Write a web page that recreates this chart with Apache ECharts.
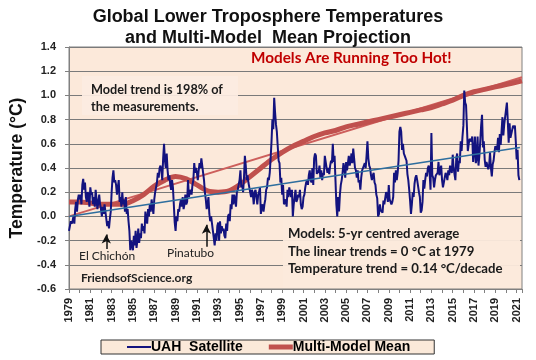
<!DOCTYPE html>
<html>
<head>
<meta charset="utf-8">
<script src="https://cdn.jsdelivr.net/npm/echarts@6/dist/echarts.min.js"></script>
<style>html,body{margin:0;padding:0;background:#fff;}#c{width:536px;height:360px;}</style>
</head>
<body>
<div id="c"></div>
<script>
// UAH satellite monthly values (°C, shifted so trend = 0 at 1979), Jan 1979 .. Apr 2021
const startYear = 1979;
const uah = [
 -0.12,-0.08,-0.04,-0.06,-0.04,0.00,-0.06,0.06,0.12,0.04,0.14,0.18,   // 1979
 0.14,0.18,0.10,0.26,0.31,0.22,0.28,0.16,0.12,0.20,0.18,0.08,          // 1980
 0.24,0.18,0.20,0.10,0.16,0.08,0.22,0.14,0.06,0.12,0.18,0.10,          // 1981
 0.06,0.00,0.08,0.02,0.10,0.04,-0.02,-0.08,-0.04,-0.10,-0.02,0.04,     // 1982
 0.20,0.32,0.38,0.28,0.30,0.26,0.18,0.24,0.30,0.12,0.16,0.08,          // 1983
 0.20,0.10,0.14,0.04,0.16,0.02,0.06,-0.04,-0.12,-0.28,-0.20,-0.24,     // 1984
 -0.28,-0.16,-0.24,-0.12,-0.26,-0.20,-0.10,-0.22,-0.14,-0.18,-0.06,-0.12, // 1985
 -0.08,-0.14,0.04,-0.02,-0.06,0.06,0.00,0.10,0.04,0.14,0.08,0.02,      // 1986
 0.14,0.20,0.24,0.28,0.36,0.32,0.40,0.42,0.38,0.30,0.48,0.60,          // 1987
 0.46,0.40,0.52,0.38,0.30,0.34,0.26,0.22,0.30,0.24,0.10,-0.05,         // 1988
 -0.12,0.00,-0.04,0.06,0.04,0.10,0.14,0.08,0.16,0.06,0.10,0.18,        // 1989
 0.10,0.12,0.30,0.16,0.20,0.22,0.18,0.26,0.30,0.44,0.36,0.40,          // 1990
 0.36,0.30,0.38,0.44,0.40,0.48,0.42,0.36,0.30,0.20,0.14,0.06,          // 1991
 0.10,0.16,0.02,-0.04,0.00,-0.06,-0.12,-0.18,-0.24,-0.14,-0.20,-0.08,  // 1992
 -0.05,-0.20,-0.04,-0.14,-0.08,-0.12,-0.10,-0.16,-0.18,-0.06,-0.12,0.00, // 1993
 0.02,-0.04,0.10,0.06,0.18,0.10,0.18,0.14,0.08,0.20,0.22,0.26,         // 1994
 0.30,0.38,0.24,0.26,0.20,0.32,0.50,0.42,0.30,0.34,0.28,0.24,          // 1995
 0.20,0.16,0.22,0.18,0.10,0.20,0.22,0.16,0.10,0.18,0.20,0.24,          // 1996
 0.02,0.08,0.10,0.04,0.10,0.14,0.22,0.24,0.32,0.30,0.36,0.48,          // 1997
 0.62,0.80,0.72,0.98,0.86,0.76,0.70,0.58,0.46,0.44,0.28,0.32,          // 1998
 0.18,0.26,0.10,0.12,0.14,0.08,0.22,0.16,0.24,0.20,0.16,0.22,          // 1999
 0.00,0.10,0.16,0.22,0.12,0.14,0.18,0.16,0.22,0.10,0.06,0.08,          // 2000
 0.16,0.18,0.24,0.28,0.30,0.26,0.34,0.38,0.30,0.28,0.40,0.26,          // 2001
 0.48,0.52,0.50,0.35,0.38,0.36,0.42,0.32,0.38,0.30,0.36,0.34,          // 2002
 0.50,0.45,0.40,0.36,0.40,0.35,0.42,0.46,0.44,0.60,0.45,0.50,          // 2003
 0.30,0.10,0.00,0.16,0.04,0.18,0.26,0.30,0.36,0.44,0.40,0.32,          // 2004
 0.45,0.38,0.44,0.50,0.42,0.46,0.52,0.44,0.56,0.48,0.40,0.38,          // 2005
 0.32,0.38,0.28,0.30,0.22,0.32,0.38,0.40,0.40,0.44,0.40,0.50,          // 2006
 0.62,0.48,0.42,0.40,0.34,0.30,0.34,0.36,0.28,0.26,0.18,0.15,          // 2007
 0.00,0.02,0.10,0.05,0.06,0.03,0.13,0.10,0.15,0.20,0.18,0.12,          // 2008
 0.26,0.14,0.12,0.10,0.12,0.16,0.36,0.28,0.38,0.30,0.36,0.46,          // 2009
 0.70,0.74,0.70,0.55,0.60,0.52,0.50,0.48,0.46,0.35,0.30,0.22,          // 2010
 0.13,0.02,0.10,0.20,0.16,0.27,0.32,0.34,0.30,0.30,0.20,0.16,          // 2011
 0.03,0.05,0.12,0.30,0.23,0.30,0.36,0.33,0.40,0.42,0.36,0.22,          // 2012
 0.69,0.34,0.32,0.24,0.30,0.34,0.34,0.36,0.45,0.34,0.34,0.42,          // 2013
 0.30,0.24,0.28,0.32,0.36,0.34,0.30,0.38,0.34,0.42,0.38,0.36,          // 2014
 0.51,0.40,0.39,0.30,0.48,0.52,0.37,0.46,0.44,0.62,0.54,0.66,          // 2015
 0.75,1.04,0.94,0.92,0.74,0.54,0.60,0.64,0.65,0.62,0.66,0.45,          // 2016
 0.54,0.66,0.44,0.48,0.66,0.42,0.50,0.62,0.75,0.84,0.57,0.62,          // 2017
 0.47,0.41,0.45,0.42,0.39,0.42,0.53,0.40,0.33,0.43,0.46,0.53,          // 2018
 0.58,0.58,0.55,0.65,0.53,0.68,0.59,0.60,0.82,0.67,0.76,0.77,          // 2019
 0.77,0.94,0.79,0.61,0.77,0.65,0.66,0.65,0.75,0.73,0.75,0.62,          // 2020
 0.47,0.55,0.34,0.30                                                    // 2021
];

// Multi-model mean, 5-yr centred average: [year, °C]
const modelYears = [1979,1980,1981,1982,1983,1984,1985,1986,1987,1988,1989,1990,1991,1992,1993,1994,1995,1996,1997,1998,1999,2000,2001,2002,2003,2004,2005,2006,2007,2008,2009,2010,2011,2012,2013,2014,2015,2016,2017,2018,2019,2020,2021.5];
const modelMean  = [0.12,0.12,0.11,0.10,0.10,0.10,0.13,0.18,0.25,0.30,0.33,0.31,0.26,0.21,0.20,0.21,0.26,0.33,0.40,0.47,0.53,0.58,0.62,0.66,0.69,0.71,0.74,0.76,0.78,0.80,0.82,0.84,0.86,0.88,0.90,0.93,0.96,1.00,1.03,1.05,1.07,1.09,1.12];

// Linear trends (0 °C at 1979)
const modelTrendYears = [1979, 2021.5];
const modelTrend = [0.0, 1.15];
const uahTrendYears = [1979, 2021.3];
const uahTrend = [0.0, 0.57];

const yTicks = {min: -0.6, max: 1.4, step: 0.2};

const uahData = uah.map((v, i) => [startYear + i / 12, v]);
const meanData = modelYears.map((y, i) => [y, modelMean[i]]);
const mTrendData = modelTrendYears.map((y, i) => [y, modelTrend[i]]);
const uTrendData = uahTrendYears.map((y, i) => [y, uahTrend[i]]);

const chart = echarts.init(document.getElementById('c'), null, {renderer: 'canvas'});
const calibri = '"Lato", "Open Sans", sans-serif';
const arial = '"Liberation Sans", Arial, sans-serif';

chart.setOption({
  animation: false,
  backgroundColor: '#ffffff',
  title: {
    text: 'Global Lower Troposphere Temperatures\nand Multi-Model  Mean Projection',
    left: 'center', top: 2,
    textStyle: {fontFamily: arial, fontWeight: 'bold', fontSize: 18, lineHeight: 21, color: '#111'}
  },
  legend: {
    data: [
      {name: 'UAH  Satellite', icon: 'path://M0,0H24V2H0Z'},
      {name: 'Multi-Model Mean', icon: 'path://M0,0H24V5H0Z'}
    ],
    left: 101, top: 340,
    backgroundColor: '#fbe9d9', borderColor: '#333', borderWidth: 1,
    padding: [0, 24, 0, 26], itemGap: 26, itemWidth: 24, itemHeight: 14,
    textStyle: {fontFamily: arial, fontWeight: 'bold', fontSize: 14, color: '#000', padding: [1,0,0,-5]}
  },
  grid: {left: 69, right: 14, top: 47, bottom: 71, show: true, backgroundColor: '#fce9da', borderColor: '#808080', borderWidth: 1},
  xAxis: {
    type: 'value', min: 1979, max: 2021.5, interval: 1,
    axisLine: {show: true, onZero: false, lineStyle: {color: '#808080'}},
    axisTick: {show: true, length: 4, lineStyle: {color: '#808080'}},
    splitLine: {show: false},
    axisLabel: {
      rotate: 90, fontFamily: arial, fontWeight: 'bold', fontSize: 11, color: '#222', margin: 9,
      formatter: v => (Number.isInteger(v) && v % 2 === 1) ? String(v) : ''
    }
  },
  yAxis: {
    type: 'value', min: yTicks.min, max: yTicks.max, interval: yTicks.step,
    name: 'Temperature (°C)', nameLocation: 'middle', nameGap: 35,
    nameTextStyle: {fontFamily: arial, fontWeight: 'bold', fontSize: 17.5, color: '#111'},
    axisLine: {show: true, lineStyle: {color: '#808080'}},
    axisTick: {show: true, length: 4, lineStyle: {color: '#808080'}},
    splitLine: {show: true, lineStyle: {color: '#7a7a7a', width: 1}},
    axisLabel: {fontFamily: arial, fontWeight: 'bold', fontSize: 11, color: '#222', margin: 13,
      formatter: v => v.toFixed(1)}
  },
  series: [
    {name: 'Model trend', type: 'line', data: mTrendData, symbol: 'none', lineStyle: {color: '#cd5f5c', width: 2}, z: 2},
    {name: 'Multi-Model Mean', type: 'line', data: meanData, symbol: 'none', smooth: 0.3, lineStyle: {color: '#c0504d', width: 5}, itemStyle: {color: '#c0504d'}, z: 3},
    {name: 'UAH  Satellite', type: 'line', data: uahData, symbol: 'none', lineStyle: {color: '#13137f', width: 2}, itemStyle: {color: '#13137f'}, z: 4,
      markLine: {
        silent: true, symbol: ['none', 'arrow'], symbolSize: [7, 9],
        lineStyle: {color: '#111', width: 1.5, type: 'solid'}, label: {show: false},
        data: [
          [{coord: [1982.5, -0.27]}, {coord: [1982.5, -0.15]}],
          [{coord: [1991.9, -0.25]}, {coord: [1991.9, -0.07]}]
        ]
      }},
    {name: 'UAH trend', type: 'line', data: uTrendData, symbol: 'none', lineStyle: {color: '#2e6e9e', width: 1.5}, z: 5}
  ],
  graphic: [
    {type: 'rect', left: 82, top: 76, shape: {width: 156, height: 39}, style: {fill: 'rgba(252,236,226,0.92)'}, z: 10},
    {type: 'text', left: 91, top: 81, z: 11, style: {text: 'Model trend is 198% of\nthe measurements.', font: 'bold 12.7px ' + calibri, lineHeight: 17, fill: '#1a1a1a'}},
    {type: 'text', left: 251, top: 51, z: 11, style: {text: 'Models Are Running Too Hot!', font: 'bold 15.3px ' + calibri, fill: '#c00000'}},
    {type: 'rect', left: 283, top: 220, shape: {width: 237, height: 68}, style: {fill: 'rgba(252,234,220,0.95)'}, z: 10},
    {type: 'text', left: 288, top: 225, z: 11, style: {text: 'Models: 5-yr centred average\nThe linear trends = 0 °C at 1979\nTemperature trend = 0.14 °C/decade', font: 'bold 13.2px ' + calibri, lineHeight: 17.5, fill: '#1a1a1a'}},
    {type: 'text', left: 79, top: 250, z: 11, style: {text: 'El Chichón', font: '12px ' + calibri, fill: '#222'}},
    {type: 'text', left: 167, top: 247, z: 11, style: {text: 'Pinatubo', font: '12px ' + calibri, fill: '#222'}},
    {type: 'text', left: 81, top: 272, z: 11, style: {text: 'FriendsofScience.org', font: 'bold 12px ' + calibri, fill: '#222'}}
  ]
});
</script>
</body>
</html>
